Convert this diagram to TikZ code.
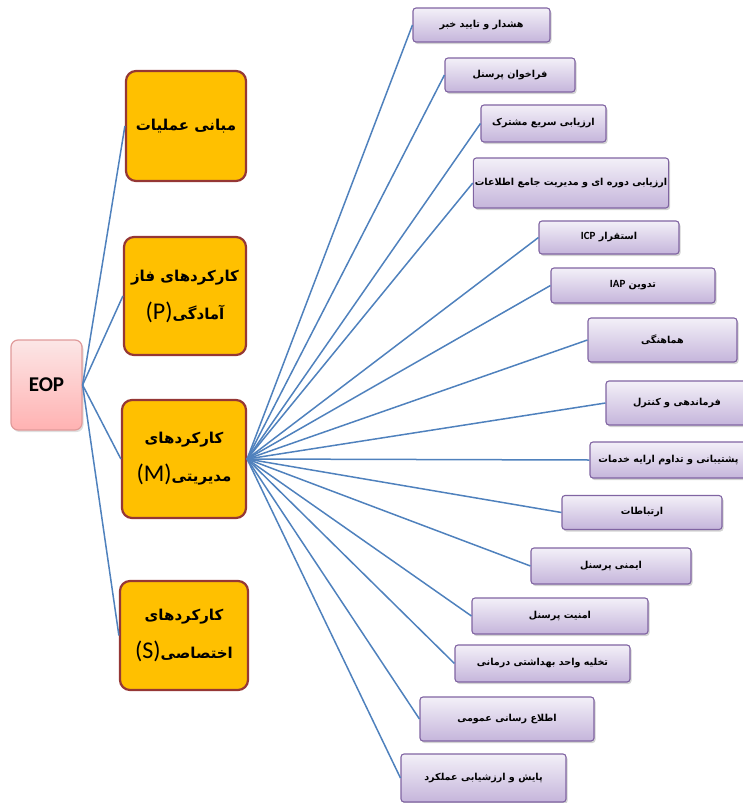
\documentclass[tikz,border=0pt]{standalone}
\usepackage{fontspec}
\setmainfont{Carlito}
\newfontfamily\arabicfont[Script=Arabic]{DejaVu Sans}
\newfontfamily\latinfont{Carlito}
\TeXXeTstate=1
\usetikzlibrary{shadows}
\definecolor{linkblue}{HTML}{4F81BD}
\definecolor{gold}{HTML}{FFC000}
\definecolor{goldedge}{HTML}{953735}
\definecolor{lavtop}{HTML}{F3F0F8}
\definecolor{lavbot}{HTML}{C5B5DB}
\definecolor{lavedge}{HTML}{8064A2}
\definecolor{pinktop}{HTML}{FCE6E6}
\definecolor{pinkbot}{HTML}{FFB2B2}
\definecolor{pinkedge}{HTML}{E09A9A}
\tikzset{
  rootbox/.style={draw=pinkedge, line width=1.2pt, rounded corners=7pt,
    top color=pinktop, bottom color=pinkbot,
    drop shadow={shadow xshift=1.5pt, shadow yshift=-2pt, opacity=0.25},
    font=\bfseries\fontsize{21}{24}\selectfont},
  groupbox/.style={draw=goldedge, line width=2.2pt, rounded corners=10pt,
    fill=gold, align=center,
    font=\arabicfont\bfseries\fontsize{15}{38}\selectfont},
  taskbox/.style={draw=lavedge, line width=1.1pt, rounded corners=3pt,
    top color=lavtop, bottom color=lavbot, align=center,
    drop shadow={shadow xshift=1.5pt, shadow yshift=-2pt, opacity=0.35},
    font=\arabicfont\bfseries\fontsize{9.6}{11}\selectfont},
  link/.style={draw=linkblue, line width=1.5pt}
}
\newcommand{\rl}[1]{\beginR #1\endR}
\newcommand{\tag}[1]{{\latinfont\mdseries\fontsize{24}{24}\selectfont(#1)}}
\newcommand{\abbr}[1]{{\latinfont\bfseries\fontsize{11}{11}\selectfont #1}}
\begin{document}
\begin{tikzpicture}[x=1pt,y=-1pt]
\useasboundingbox (0,0) rectangle (743,803);

% root node
\node[rootbox, minimum width=71pt, minimum height=90pt] (eop) at (46.5,385) {EOP};

% the four groups of functions
\node[groupbox, minimum width=120pt, minimum height=110pt] (ops) at (186,126) {\rl{مبانی عملیات}};
\node[groupbox, minimum width=122pt, minimum height=118pt] (prep) at (185,296)
  {\rl{کارکردهای فاز}\\\tag{P}\rl{آمادگی}};
\node[groupbox, minimum width=124pt, minimum height=118pt] (mgmt) at (184,459)
  {\rl{کارکردهای}\\\tag{M}\rl{مدیریتی}};
\node[groupbox, minimum width=128pt, minimum height=109pt] (spec) at (184,635.5)
  {\rl{کارکردهای}\\\tag{S}\rl{اختصاصی}};

% management tasks
\node[taskbox, minimum width=137pt, minimum height=34pt] (t1) at (481.5,25) {\rl{هشدار و تایید خبر}};
\node[taskbox, minimum width=130pt, minimum height=34pt] (t2) at (510,75) {\rl{فراخوان پرسنل}};
\node[taskbox, minimum width=125pt, minimum height=37pt] (t3) at (543.5,123.5) {\rl{ارزیابی سریع مشترک}};
\node[taskbox, minimum width=190pt, minimum height=50pt, inner xsep=1.5pt] (t4) at (571,183) {\rl{ارزیابی دوره ای و مدیریت جامع اطلاعات}};
\node[taskbox, minimum width=140pt, minimum height=33pt] (t5) at (609,237.5) {\abbr{ICP} \rl{استقرار}};
\node[taskbox, minimum width=164pt, minimum height=35pt] (t6) at (633,285.5) {\abbr{IAP} \rl{تدوین}};
\node[taskbox, minimum width=149pt, minimum height=44pt] (t7) at (662.5,340) {\rl{هماهنگی}};
\node[taskbox, minimum width=142pt, minimum height=44pt] (t8) at (677,403) {\rl{فرماندهی و کنترل}};
\node[taskbox, minimum width=157pt, minimum height=36pt, inner xsep=2pt] (t9) at (668.5,460) {\rl{پشتیبانی و تداوم ارایه خدمات}};
\node[taskbox, minimum width=160pt, minimum height=34pt] (t10) at (642,512.5) {\rl{ارتباطات}};
\node[taskbox, minimum width=160pt, minimum height=36pt] (t11) at (611,566) {\rl{ایمنی پرسنل}};
\node[taskbox, minimum width=176pt, minimum height=36pt] (t12) at (560,616) {\rl{امنیت پرسنل}};
\node[taskbox, minimum width=175pt, minimum height=37pt] (t13) at (542.5,663.5) {\rl{تخلیه واحد بهداشتی درمانی}};
\node[taskbox, minimum width=174pt, minimum height=44pt] (t14) at (507,719) {\rl{اطلاع رسانی عمومی}};
\node[taskbox, minimum width=165pt, minimum height=48pt] (t15) at (483.5,778) {\rl{پایش و ارزشیابی عملکرد}};

% connectors
\foreach \g in {ops,prep,mgmt,spec}
  \draw[link] (eop.east) -- (\g.west);
\foreach \t in {t1,t2,t3,t4,t5,t6,t7,t8,t9,t10,t11,t12,t13,t14,t15}
  \draw[link] (mgmt.east) -- (\t.west);
\end{tikzpicture}
\end{document}
